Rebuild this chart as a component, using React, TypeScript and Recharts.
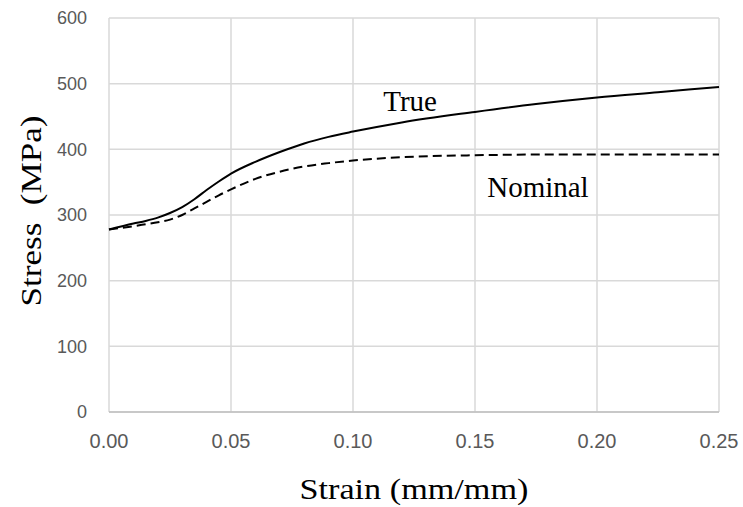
import React from "react";
import { LineChart, Line, XAxis, YAxis, CartesianGrid, ReferenceDot } from "recharts";

const strain = [0, 0.01, 0.015, 0.02, 0.025, 0.03, 0.035, 0.04, 0.045, 0.05, 0.06, 0.07, 0.08, 0.09, 0.1, 0.12, 0.15, 0.175, 0.2, 0.225, 0.25];
const trueStress = [278, 287, 291, 296, 303, 312, 324, 338, 351, 363, 381, 396, 409, 419, 427, 441, 457, 469, 479, 487, 495];
const nominalStress = [278, 283, 286, 289, 293, 300, 310, 320, 330, 339, 355, 366, 374, 379, 383, 388, 391, 392, 392, 392, 392];
const xTicks = [0, 0.05, 0.1, 0.15, 0.2, 0.25];
const yTicks = [0, 100, 200, 300, 400, 500, 600];

const data = strain.map((s, i) => ({ s, t: trueStress[i], n: nominalStress[i] }));

const serif = "'Liberation Serif', 'Times New Roman', serif";
const sans = "'Liberation Sans', Arial, sans-serif";

const txt = (value: string) => (props: any) => {
  const { viewBox } = props;
  return (
    <text x={viewBox.x} y={viewBox.y} textAnchor="middle" dominantBaseline="central" fontFamily={serif} fontSize={29} fill="#000">
      {value}
    </text>
  );
};

export default function App() {
  return (
    <div style={{ position: "absolute", left: 0, top: 0, width: 743, height: 507, background: "#fff" }}>
      <LineChart width={743} height={507} data={data} margin={{ top: 18, right: 24, bottom: 65, left: 0 }}>
        <CartesianGrid stroke="#d9d9d9" strokeWidth={1.5} />
        <XAxis
          dataKey="s"
          type="number"
          domain={[0, 0.25]}
          ticks={xTicks}
          tickFormatter={(v: number) => v.toFixed(2)}
          tick={{ fill: "#595959", fontSize: 20, fontFamily: sans }}
          tickLine={false}
          axisLine={{ stroke: "#bfbfbf", strokeWidth: 1.5 }}
          tickSize={0}
          tickMargin={22}
          height={30}
        />
        <YAxis
          type="number"
          domain={[0, 600]}
          ticks={yTicks}
          tick={{ fill: "#595959", fontSize: 18, fontFamily: sans }}
          tickLine={false}
          axisLine={false}
          tickSize={0}
          tickMargin={22}
          width={109}
        />
        <Line type="monotone" dataKey="t" stroke="#000" strokeWidth={2} dot={false} isAnimationActive={false} />
        <Line type="monotone" dataKey="n" stroke="#000" strokeWidth={2} strokeDasharray="9 5" dot={false} isAnimationActive={false} />
        <ReferenceDot x={0.1234} y={474} r={0} label={txt("True")} />
        <ReferenceDot x={0.1758} y={343} r={0} label={txt("Nominal")} />
      </LineChart>
      <div
        style={{
          position: "absolute",
          left: 31,
          top: 211,
          transform: "translate(-50%, -50%) rotate(-90deg) scaleX(1.17)",
          whiteSpace: "pre",
          fontFamily: serif,
          fontSize: 30,
          color: "#000",
        }}
      >
        {"Stress  (MPa)"}
      </div>
      <div
        style={{
          position: "absolute",
          left: 414,
          top: 489,
          transform: "translate(-50%, -50%) scaleX(1.14)",
          whiteSpace: "pre",
          fontFamily: serif,
          fontSize: 30,
          color: "#000",
        }}
      >
        Strain (mm/mm)
      </div>
    </div>
  );
}
